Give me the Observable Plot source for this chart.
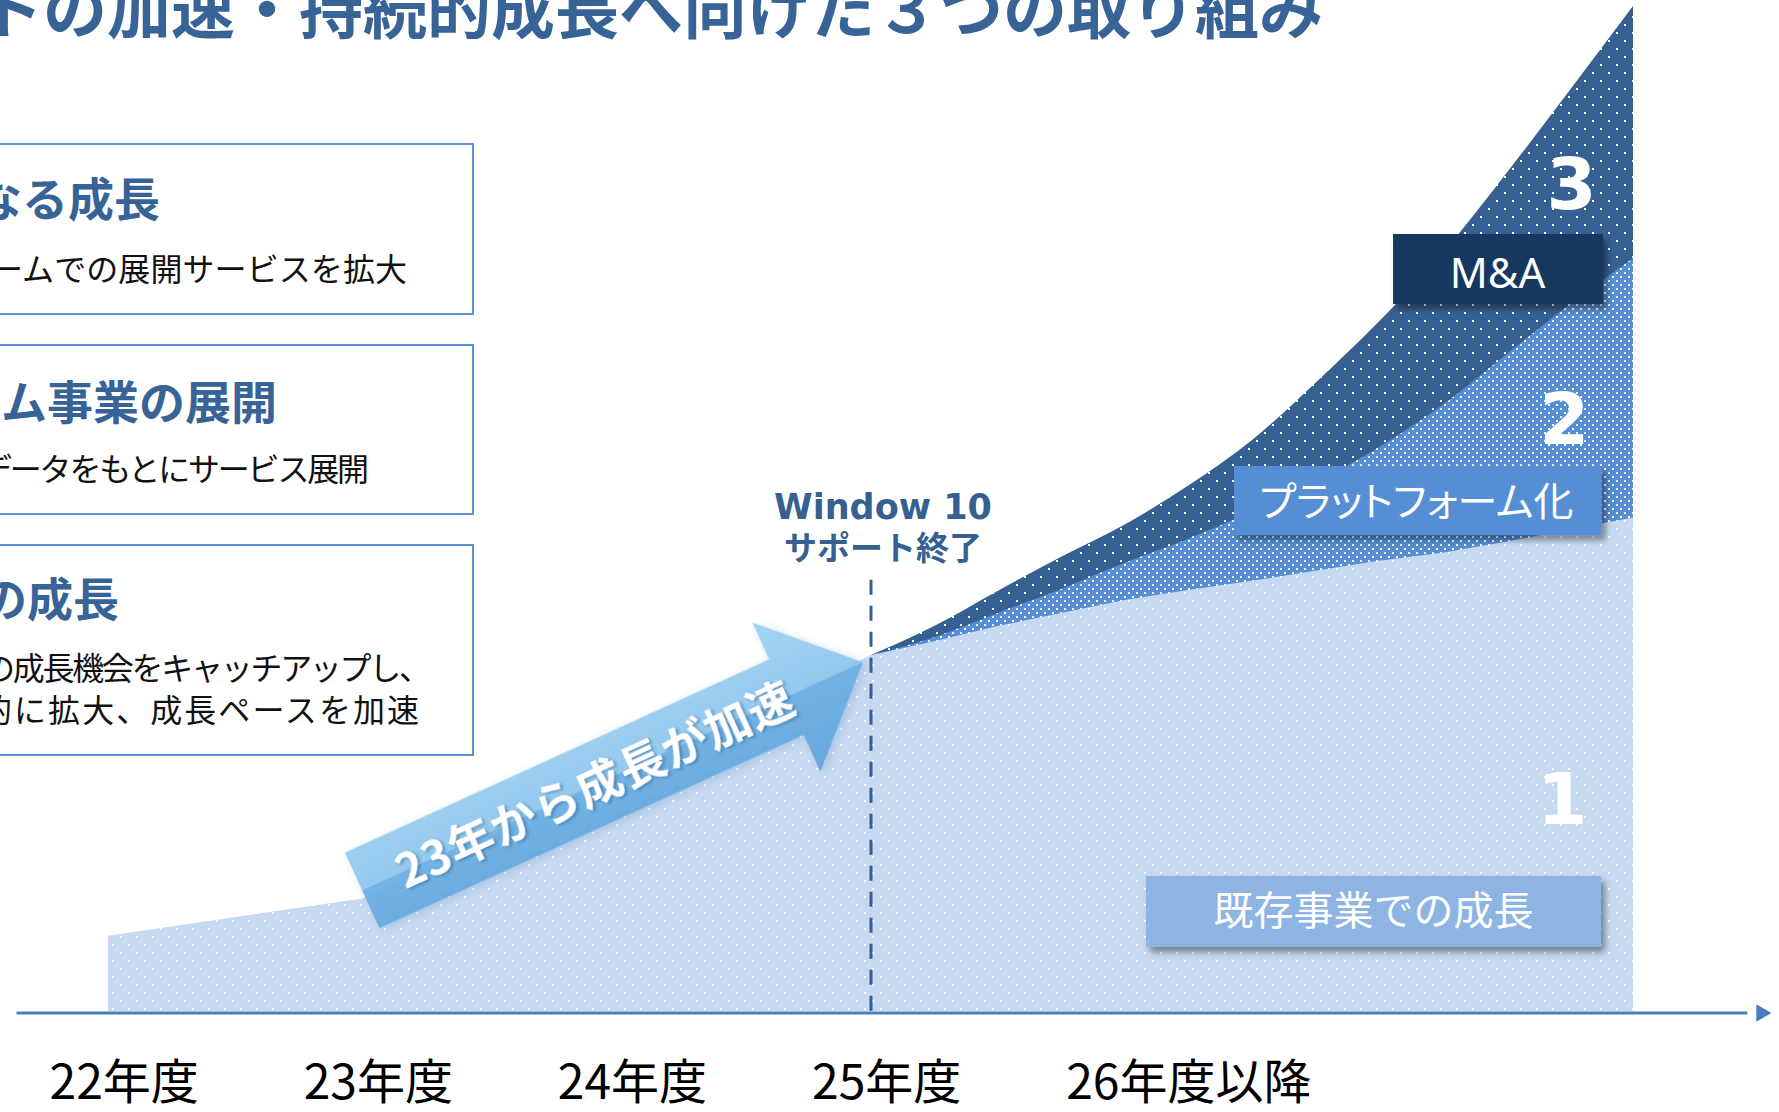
<!DOCTYPE html>
<html><head><meta charset="utf-8">
<script src="https://cdn.jsdelivr.net/npm/d3@7"></script>
<script src="https://cdn.jsdelivr.net/npm/@observablehq/plot@0.6"></script>
<style>
html,body{margin:0;padding:0;background:#fff;overflow:hidden}
#wrap{position:relative;width:1779px;height:1112px;overflow:hidden;background:#fff}
#wrap > svg{position:absolute;left:0;top:0}
</style></head><body>
<svg width="0" height="0" style="position:absolute">
 <defs>
  <pattern id="pLight" width="16" height="16" patternUnits="userSpaceOnUse">
   <rect width="16" height="16" fill="#C6D9F1"/>
   <rect x="0" y="0" width="2" height="2" fill="#fff"/>
   <rect x="8" y="8" width="2" height="2" fill="#fff"/>
  </pattern>
  <pattern id="pMid" width="8" height="8" patternUnits="userSpaceOnUse">
   <rect width="8" height="8" fill="#558ED5"/>
   <rect x="0" y="0" width="2" height="2" fill="#fff"/>
   <rect x="4" y="4" width="2" height="2" fill="#fff"/>
  </pattern>
  <pattern id="pDark" width="16" height="16" patternUnits="userSpaceOnUse">
   <rect width="16" height="16" fill="#376092"/>
   <rect x="0" y="0" width="2" height="2" fill="#fff"/>
   <rect x="8" y="8" width="2" height="2" fill="#fff"/>
  </pattern>
  <linearGradient id="arrowGrad" x1="0" y1="0" x2="0" y2="1">
   <stop offset="0" stop-color="#9FD1F2"/>
   <stop offset="0.5" stop-color="#8CC5EC"/>
   <stop offset="0.5" stop-color="#6DAFE3"/>
   <stop offset="1" stop-color="#5EA4DC"/>
  </linearGradient>
  <filter id="arrowShadow" x="-20%" y="-40%" width="140%" height="180%">
   <feDropShadow dx="2" dy="3" stdDeviation="4" flood-color="#7fa6cf" flood-opacity="0.45"/>
  </filter>
  <filter id="textShadow" x="-10%" y="-30%" width="120%" height="160%">
   <feDropShadow dx="2" dy="2" stdDeviation="1.5" flood-color="#1f4e80" flood-opacity="0.45"/>
  </filter>
  <filter id="boxShadow" x="-10%" y="-20%" width="125%" height="150%">
   <feDropShadow dx="4" dy="5" stdDeviation="3" flood-color="#000" flood-opacity="0.4"/>
  </filter>
 </defs>
</svg>
<div id="wrap"></div>
<script>
// ---------------- data ----------------
const years    = [22, 23, 25, 25.25, 25.5, 25.75, 26, 26.25, 26.5, 26.75, 27, 27.25, 27.5, 27.75, 28];
const existing = [7.5, 11.2, 35.4, 36.8, 38.3, 39.6, 40.9, 41.9, 42.8, 43.8, 44.8, 45.6, 46.7, 47.9, 49.1];
const platform = [0, 0, 0, 0.4, 1.3, 2.4, 3.7, 5.1, 6.9, 8.8, 11.3, 14.7, 18.6, 22.4, 25.8];
const mna      = [0, 0, 0, 1.1, 2.2, 3.2, 3.8, 5.3, 7.1, 9.9, 12.5, 15.1, 18.0, 21.3, 25.1];

const tickYears  = [22, 23, 24, 25, 26];
const tickLabels = ["22年度", "23年度", "24年度", "25年度", "26年度以降"];

const seriesNames = ["既存事業での成長", "プラットフォーム化", "M&A"];
const seriesNums  = ["1", "2", "3"];

const milestoneYear = 25;
const milestoneLines = ["Window 10", "サポート終了"];
const arrowText = "23年から成長が加速";

const titleText = "トの加速・持続的成長へ向けた３つの取り組み";
const panelHeads = ["なる成長", "ム事業の展開", "の成長"];
const panelBodies = [
  ["ームでの展開サービスを拡大"],
  ["データをもとにサービス展開"],
  ["の成長機会をキャッチアップし、", "的に拡大、成長ペースを加速"]
];

// ---------------- derived table ----------------
const rows = years.map((year, i) => ({
  year,
  base: existing[i],
  top2: existing[i] + platform[i],
  top3: existing[i] + platform[i] + mna[i]
}));
const rowsLate = rows.filter(d => d.year >= milestoneYear);
const lastRow = rows[rows.length - 1];

// annotation placement (data units)
const arrowFrom = {x: 23.0, y: 12.0};
const arrowTo   = {x: 24.97, y: 34.7};
const labelBoxes = [
  {name: seriesNames[2], x1: 27.056, x2: 27.882, y1: 70.35, y2: 77.31, fill: "#17375E", tx: 27.465, ty: 72.0, fs: 42},
  {name: seriesNames[1], x1: 26.430, x2: 27.876, y1: 47.36, y2: 54.23, fill: "#558ED5", tx: 27.146, ty: 49.3, fs: 40},
  {name: seriesNames[0], x1: 26.084, x2: 27.874, y1: 6.37,  y2: 13.43, fill: "#8EB4E3", tx: 26.977, ty: 8.6, fs: 40}
];
const numAnno = [
  {t: seriesNums[2], x: 27.756, y: 79.9},
  {t: seriesNums[1], x: 27.728, y: 56.5},
  {t: seriesNums[0], x: 27.72,  y: 18.7}
];

const cjk = "'Noto Sans CJK JP', 'Noto Sans', sans-serif";

function arrowMark(index, scales) {
  const x0 = scales.x(arrowFrom.x), y0 = scales.y(arrowFrom.y);
  const x1 = scales.x(arrowTo.x),   y1 = scales.y(arrowTo.y);
  const L = Math.hypot(x1 - x0, y1 - y0);
  const ang = Math.atan2(y1 - y0, x1 - x0) * 180 / Math.PI;
  const sw = 41.5, hw = 82, hl = 84;
  const g = d3.create("svg:g").attr("transform", `translate(${x0},${y0}) rotate(${ang})`);
  g.append("path")
    .attr("d", `M0,${-sw}L${L - hl},${-sw}L${L - hl},${-hw}L${L},0L${L - hl},${hw}L${L - hl},${sw}L0,${sw}Z`)
    .attr("fill", "url(#arrowGrad)")
    .attr("opacity", 0.93)
    .attr("filter", "url(#arrowShadow)");
  g.append("text")
    .attr("x", L * 0.465).attr("y", 0).attr("dy", "0.36em")
    .attr("text-anchor", "middle")
    .attr("font-family", cjk).attr("font-weight", "bold").attr("font-size", 46)
    .attr("letter-spacing", 1)
    .attr("fill", "#fff")
    .attr("filter", "url(#textShadow)")
    .text(arrowText);
  return g.node();
}

const chart = Plot.plot({
  width: 1779, height: 1112,
  marginLeft: 108, marginRight: 146, marginTop: 6, marginBottom: 101,
  x: {domain: [22, 28], axis: null},
  y: {domain: [0, 100], axis: null},
  style: {fontFamily: cjk, background: "transparent", overflow: "visible"},
  marks: [
    Plot.areaY(rowsLate, {x: "year", y1: 0, y2: "top3", fill: "url(#pDark)", curve: "monotone-x"}),
    Plot.areaY(rowsLate, {x: "year", y1: 0, y2: "top2", fill: "url(#pMid)", curve: "monotone-x"}),
    Plot.areaY(rows, {x: "year", y1: 0, y2: "base", fill: "url(#pLight)", curve: "linear"}),
    arrowMark,
    Plot.ruleX([milestoneYear], {y1: 42.9, y2: 0, stroke: "#376092", strokeWidth: 3, strokeDasharray: "15,11"}),
    Plot.text([milestoneLines[0]], {x: () => milestoneYear, y: () => 49.05, text: d => d, dx: 12, lineAnchor: "bottom",
      fontFamily: "'DejaVu Sans', sans-serif", fontWeight: "bold", fontSize: 35, fill: "#376092"}),
    Plot.text([milestoneLines[1]], {x: () => milestoneYear, y: () => 44.9, text: d => d, dx: 12, lineAnchor: "bottom",
      fontFamily: cjk, fontWeight: "bold", fontSize: 33, fill: "#376092"}),
    ...labelBoxes.map(b => Plot.rect([b], {x1: "x1", x2: "x2", y1: "y1", y2: "y2", fill: b.fill})),
    ...labelBoxes.map(b => Plot.text([b], {x: "tx", y: "ty", text: "name", lineAnchor: "bottom",
      fontSize: b.fs, fill: "#fff", fontFamily: b.fs === 42 ? "'Noto Sans', sans-serif" : cjk})),
    Plot.text(numAnno, {x: "x", y: "y", text: "t", lineAnchor: "bottom", textAnchor: "middle",
      fontFamily: "'DejaVu Sans', sans-serif", fontWeight: "bold", fontSize: 72, fill: "#fff"}),
    Plot.ruleY([0], {x1: 21.64, x2: 28.45, stroke: "#4A7EBB", strokeWidth: 3, dy: 1.5}),
    Plot.dot([lastRow], {x: () => 28.503, y: () => 0, symbol: "triangle", rotate: 90, r: 6.5, fill: "#4A7EBB", stroke: "none", dy: 1.5}),
    Plot.text(tickYears, {x: d => d, y: () => -8.66, text: (d, i) => tickLabels[i], textAnchor: "start", lineAnchor: "bottom",
      dx: -59, fontSize: 48, fill: "#000"})
  ]
});

const wrap = document.getElementById("wrap");
wrap.appendChild(chart);

const cs = d3.select(chart);
cs.selectAll('g[aria-label="rect"] rect').attr("filter", "url(#boxShadow)");
cs.selectAll("text").filter(function () { return this.textContent === seriesNames[1]; })
  .style("font-feature-settings", "'palt'");

// ------------- overlay: title and left panels -------------
const ov = d3.select(wrap).append("svg")
  .attr("width", 1779).attr("height", 1112)
  .style("pointer-events", "none")
  .attr("font-family", cjk);

ov.append("text").attr("x", 1323).attr("y", 33).attr("text-anchor", "end")
  .attr("font-size", 64).attr("font-weight", "bold").attr("fill", "#386397").text(titleText);

const panelY = [[144, 314], [345, 514], [545, 755]];
const headEnd = [160, 277, 119], headBase = [216, 419, 616];
const bodyStart = [[-9], [-20], [-17, -20]];
const bodyLen   = [[416], [389], [448, 439]];
const bodyBase  = [[281], [481], [680, 722]];
panelHeads.forEach((h, i) => {
  ov.append("rect").attr("x", -10).attr("y", panelY[i][0]).attr("width", 483).attr("height", panelY[i][1] - panelY[i][0])
    .attr("fill", "#fff").attr("stroke", "#5B8FD6").attr("stroke-width", 2);
  ov.append("text").attr("x", headEnd[i]).attr("y", headBase[i]).attr("text-anchor", "end")
    .attr("font-size", 46).attr("font-weight", "bold").attr("fill", "#386397").text(h);
  panelBodies[i].forEach((line, j) => {
    ov.append("text").attr("x", bodyStart[i][j]).attr("y", bodyBase[i][j]).attr("text-anchor", "start")
      .attr("textLength", bodyLen[i][j]).attr("lengthAdjust", "spacing")
      .attr("font-size", 32).attr("fill", "#111").text(line);
  });
});
</script>
</body></html>
